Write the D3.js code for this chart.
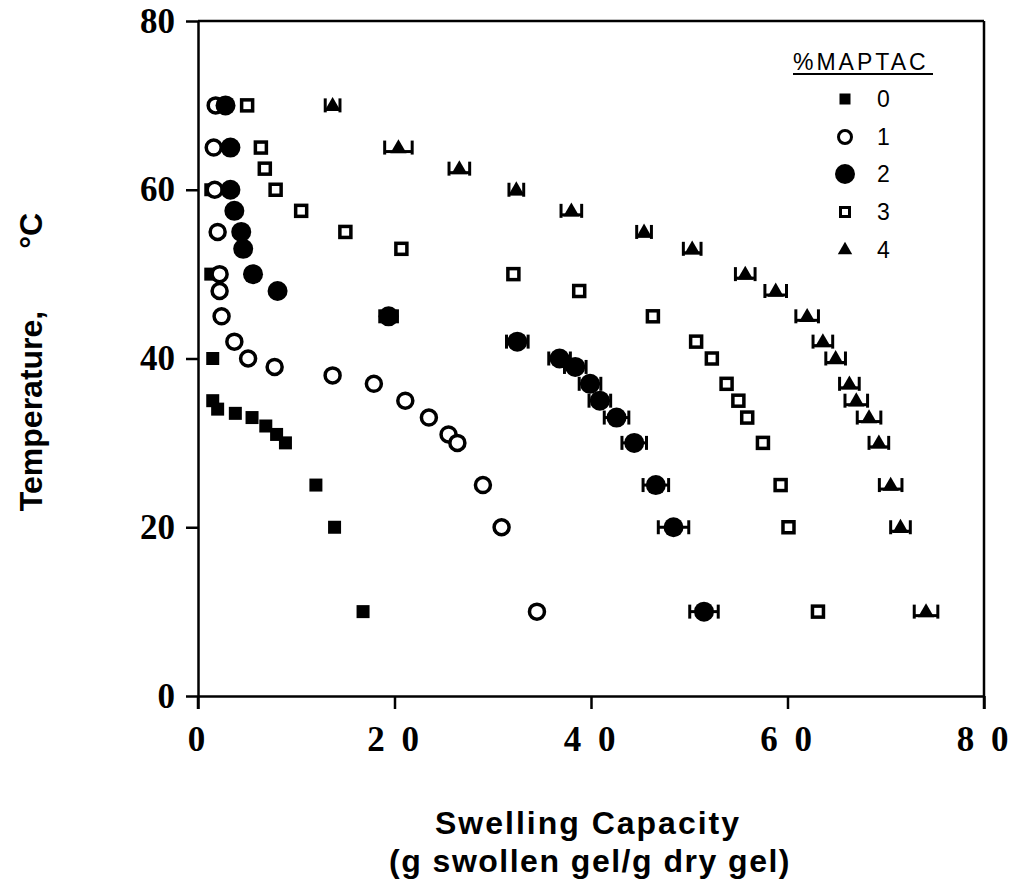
<!DOCTYPE html>
<html>
<head>
<meta charset="utf-8">
<script src="https://cdn.jsdelivr.net/npm/d3@7"></script>
<style>
  body { margin: 0; background: #fff; }
  svg { display: block; }
  .tick text { font-family: "Liberation Serif", serif; font-weight: bold; font-size: 35px; fill: #000; }
  .title { font-family: "Liberation Sans", Arial, sans-serif; font-weight: bold; fill: #000; }
  .legend { font-family: "Liberation Sans", Arial, sans-serif; fill: #000; }
</style>
</head>
<body>
<div id="chart"></div>
<script>
// %MAPTAC series: temperature (°C) vs swelling capacity (g/g)
const seriesNames = ['0', '1', '2', '3', '4'];
const xTicks = [0, 20, 40, 60, 80];
const yTicks = [0, 20, 40, 60, 80];

const temp0 = [60, 50, 40, 35, 34, 33.5, 33, 32, 31, 30, 25, 20, 10];
const swell0 = [1.3, 1.3, 1.5, 1.5, 2.0, 3.8, 5.5, 6.9, 8.0, 8.9, 12.0, 13.9, 16.8];

const temp1 = [70, 65, 60, 55, 50, 48, 45, 42, 40, 39, 38, 37, 35, 33, 31, 30, 25, 20, 10];
const swell1 = [1.8, 1.6, 1.7, 2.0, 2.2, 2.2, 2.4, 3.7, 5.1, 7.8, 13.7, 17.9, 21.1, 23.5, 25.5, 26.4, 29.0, 30.9, 34.5];

const temp2 = [70, 65, 60, 57.5, 55, 53, 50, 48, 45, 42, 40, 39, 37, 35, 33, 30, 25, 20, 10];
const swell2 = [2.8, 3.3, 3.3, 3.7, 4.4, 4.6, 5.6, 8.1, 19.4, 32.5, 36.8, 38.4, 39.9, 40.9, 42.6, 44.4, 46.6, 48.4, 51.5];
const err2 = [0, 0, 0, 0, 0, 0, 0, 0, 0.9, 1.1, 1.1, 1.1, 1.1, 1.1, 1.25, 1.25, 1.3, 1.55, 1.45];

const temp3 = [70, 65, 62.5, 60, 57.5, 55, 53, 50, 48, 45, 42, 40, 37, 35, 33, 30, 25, 20, 10];
const swell3 = [5.0, 6.4, 6.8, 7.9, 10.5, 15.0, 20.7, 32.1, 38.8, 46.3, 50.7, 52.3, 53.8, 55.0, 55.9, 57.5, 59.3, 60.1, 63.1];

const temp4 = [70, 65, 62.5, 60, 57.5, 55, 53, 50, 48, 45, 42, 40, 37, 35, 33, 30, 25, 20, 10];
const swell4 = [13.7, 20.4, 26.6, 32.4, 38.0, 45.4, 50.3, 55.7, 58.8, 62.0, 63.6, 64.9, 66.3, 67.0, 68.3, 69.3, 70.5, 71.5, 74.1];
const err4 = [0.75, 1.4, 1.05, 0.75, 1.05, 0.75, 0.9, 1.0, 1.1, 1.15, 1.0, 1.0, 1.0, 1.15, 1.2, 1.0, 1.15, 1.0, 1.2];

const width = 1018, height = 882;
const svg = d3.select('#chart').append('svg')
    .attr('width', width)
    .attr('height', height);

const x = d3.scaleLinear().domain([0, 80]).range([198, 984]);
const y = d3.scaleLinear().domain([0, 80]).range([696, 21]);

// Axes
const xAxis = d3.axisBottom(x)
    .tickValues(xTicks)
    .tickSize(13)
    .tickSizeOuter(0)
    .tickPadding(17)
    .tickFormat(d => d === 0 ? '0' : String(d).split('').join(' '));
const yAxis = d3.axisLeft(y)
    .tickValues(yTicks)
    .tickSize(12)
    .tickSizeOuter(0)
    .tickPadding(11);

const gx = svg.append('g').attr('transform', `translate(0,${y(0)})`).call(xAxis);
const gy = svg.append('g').attr('transform', `translate(${x(0)},0)`).call(yAxis);
[gx, gy].forEach(g => {
    g.selectAll('path, line').attr('stroke', '#000').attr('stroke-width', 2.5);
});
gx.selectAll('.tick text').attr('letter-spacing', 4);

// left axis continues below the bottom line, plus top and right frame
svg.append('line').attr('x1', x(0)).attr('x2', x(0)).attr('y1', y(0)).attr('y2', y(0) + 13)
    .attr('stroke', '#000').attr('stroke-width', 2.5);
svg.append('line').attr('x1', x(0)).attr('x2', x(80)).attr('y1', y(80)).attr('y2', y(80))
    .attr('stroke', '#000').attr('stroke-width', 2.5);
svg.append('line').attr('x1', x(80)).attr('x2', x(80)).attr('y1', y(80)).attr('y2', y(0) + 13)
    .attr('stroke', '#000').attr('stroke-width', 2.5);

// Axis titles
const yTitle = svg.append('text').attr('class', 'title')
    .attr('transform', 'translate(42,362) rotate(-90)')
    .attr('text-anchor', 'middle')
    .attr('font-size', 32);
yTitle.append('tspan').text('Temperature,');
yTitle.append('tspan').attr('dx', 62).text('°C');

svg.append('text').attr('class', 'title')
    .attr('x', 588).attr('y', 834)
    .attr('text-anchor', 'middle')
    .attr('font-size', 32)
    .attr('letter-spacing', 2)
    .text('Swelling Capacity');
svg.append('text').attr('class', 'title')
    .attr('x', 590).attr('y', 872)
    .attr('text-anchor', 'middle')
    .attr('font-size', 32)
    .attr('letter-spacing', 1.5)
    .text('(g swollen gel/g dry gel)');

// Marker drawing helpers
const plot = svg.append('g');
const triangle = d3.symbol().type(d3.symbolTriangle).size(115);

function errorBars(xs, ys, errs, lineOffset) {
    const g = plot.append('g').attr('stroke', '#000').attr('stroke-width', 3);
    xs.forEach((v, i) => {
        if (!errs[i]) return;
        const x1 = x(v - errs[i]), x2 = x(v + errs[i]), cy = y(ys[i]);
        g.append('line').attr('x1', x1).attr('x2', x2).attr('y1', cy + lineOffset).attr('y2', cy + lineOffset);
        g.append('line').attr('x1', x1).attr('x2', x1).attr('y1', cy - 7).attr('y2', cy + 7);
        g.append('line').attr('x1', x2).attr('x2', x2).attr('y1', cy - 7).attr('y2', cy + 7);
    });
}

// 0 : filled square
plot.append('g').selectAll('rect')
    .data(swell0.map((v, i) => [v, temp0[i]]))
    .enter().append('rect')
    .attr('x', d => x(d[0]) - 6.5).attr('y', d => y(d[1]) - 6.5)
    .attr('width', 13).attr('height', 13)
    .attr('fill', '#000');

// 1 : open circle
plot.append('g').selectAll('circle')
    .data(swell1.map((v, i) => [v, temp1[i]]))
    .enter().append('circle')
    .attr('cx', d => x(d[0])).attr('cy', d => y(d[1]))
    .attr('r', 7.5)
    .attr('fill', '#fff').attr('stroke', '#000').attr('stroke-width', 3.5);

// 2 : filled circle with error bars
errorBars(swell2, temp2, err2, 0);
plot.append('g').selectAll('circle')
    .data(swell2.map((v, i) => [v, temp2[i]]))
    .enter().append('circle')
    .attr('cx', d => x(d[0])).attr('cy', d => y(d[1]))
    .attr('r', 10)
    .attr('fill', '#000');

// 3 : open square
plot.append('g').selectAll('rect')
    .data(swell3.map((v, i) => [v, temp3[i]]))
    .enter().append('rect')
    .attr('x', d => x(d[0]) - 5.5).attr('y', d => y(d[1]) - 5.5)
    .attr('width', 11).attr('height', 11)
    .attr('fill', '#fff').attr('stroke', '#000').attr('stroke-width', 3.5);

// 4 : filled triangle with error bars along its base
errorBars(swell4, temp4, err4, 4);
plot.append('g').selectAll('path')
    .data(swell4.map((v, i) => [v, temp4[i]]))
    .enter().append('path')
    .attr('d', triangle)
    .attr('transform', d => `translate(${x(d[0])},${y(d[1]) + 1})`)
    .attr('fill', '#000');

// Legend
const legend = svg.append('g').attr('class', 'legend').attr('font-size', 23);
legend.append('text').attr('x', 793).attr('y', 70).attr('letter-spacing', 3).text('%MAPTAC');
legend.append('line').attr('x1', 793).attr('x2', 933).attr('y1', 74).attr('y2', 74)
    .attr('stroke', '#000').attr('stroke-width', 2);

const legendY = [99, 137, 174, 212, 250];
const lx = 845;
seriesNames.forEach((name, i) => {
    const row = legend.append('g').attr('transform', `translate(0,${legendY[i]})`);
    row.append('text').attr('x', 877).attr('y', 8).text(name);
    if (i === 0) {
        row.append('rect').attr('x', lx - 5.5).attr('y', -5.5).attr('width', 11).attr('height', 11).attr('fill', '#000');
    } else if (i === 1) {
        row.append('circle').attr('cx', lx).attr('cy', 0).attr('r', 6.5)
            .attr('fill', '#fff').attr('stroke', '#000').attr('stroke-width', 3);
    } else if (i === 2) {
        row.append('circle').attr('cx', lx).attr('cy', 0).attr('r', 10).attr('fill', '#000');
    } else if (i === 3) {
        row.append('rect').attr('x', lx - 4.5).attr('y', -4.5).attr('width', 9).attr('height', 9)
            .attr('fill', '#fff').attr('stroke', '#000').attr('stroke-width', 3);
    } else {
        row.append('path').attr('d', d3.symbol().type(d3.symbolTriangle).size(90))
            .attr('transform', `translate(${lx},0)`).attr('fill', '#000');
    }
});
</script>
</body>
</html>
